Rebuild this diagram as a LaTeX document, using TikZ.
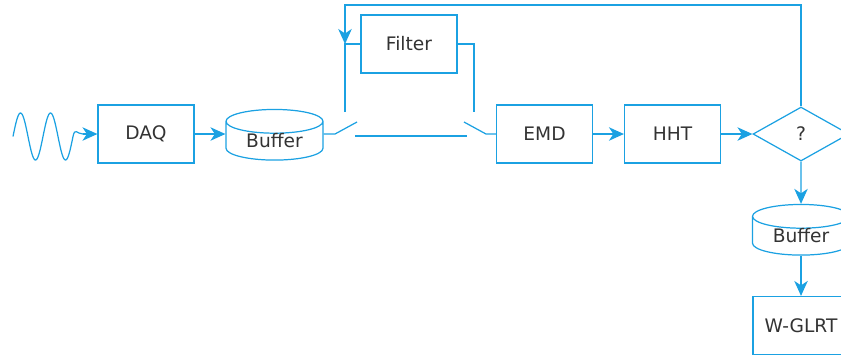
\documentclass[tikz,border=0pt]{standalone}
\usepackage{fontspec}
\setmainfont{DejaVu Sans}
\usetikzlibrary{shapes.geometric,arrows.meta}
\definecolor{flow}{RGB}{27,161,226}
\definecolor{ink}{RGB}{51,51,51}
\begin{document}
\begin{tikzpicture}[x=0.02cm,y=-0.02cm,font=\fontsize{10.6}{12}\selectfont,
    block/.style={draw=flow,line width=0.7pt,text=ink,minimum width=1.92cm,minimum height=1.16cm,inner sep=0pt},
    store/.style={cylinder,shape border rotate=90,aspect=0.42,draw=flow,line width=0.7pt,text=ink,minimum width=1.94cm,minimum height=1.0cm,inner sep=0pt},
    test/.style={diamond,aspect=1.78,draw=flow,line width=0.7pt,text=ink,minimum width=1.92cm,minimum height=1.08cm,inner sep=0pt},
    wire/.style={draw=flow,line width=0.7pt},
    arr/.style={wire,-{Stealth[length=0.3cm,width=0.27cm,inset=0.09cm]}}]
  \useasboundingbox (0,0) rectangle (841,360);
  \clip (0,0) rectangle (841,360);
  % blocks
  \node[block] (daq) at (146,134) {DAQ};
  \node[store] (buf1) at (274.5,141) {Buffer};
  \node[block] (filter) at (409,44) {Filter};
  \node[block] (emd) at (544.5,134) {EMD};
  \node[block] (hht) at (672.5,134) {HHT};
  \node[test] (q) at (801,134) {?};
  \node[store] (buf2) at (801,236) {Buffer};
  \node[block] (glrt) at (801,325.5) {W-GLRT};
  % input signal
  \coordinate (wave) at (83,134);
  \draw[wire] plot[domain=0:2,samples=80,smooth] ({13+30*\x},{136.5-23.5*sin(360*\x)})
    .. controls (75,127) and (77,134) .. (wave);
  \draw[arr] (wave) -- (daq);
  \draw[arr] (daq) -- (daq -| buf1.west);
  % switches
  \coordinate (p1) at (335,134);
  \coordinate (t1) at (357,122);
  \coordinate (a1) at (345,112);
  \coordinate (b1) at (355,136);
  \coordinate (p2) at (486,134);
  \coordinate (t2) at (464,122);
  \coordinate (a2) at (474,112);
  \coordinate (b2) at (467,136);
  \draw[wire] (p1 -| buf1.east) -- (p1) -- (t1);
  \draw[wire] (emd.west) -- (p2) -- (t2);
  \draw[wire] (b1) -- (b2);
  \draw[wire] (a1) |- (filter.west);
  \draw[wire] (filter.east) -| (a2);
  % feedback
  \coordinate (fb) at (345,5);
  \draw[arr] (q.north) |- (fb) -- (fb |- filter.west);
  \draw[arr] (emd) -- (hht);
  \draw[arr] (hht) -- (q);
  \draw[arr] (q) -- (buf2.north);
  \draw[arr] (buf2.south) -- (glrt);
\end{tikzpicture}
\end{document}
